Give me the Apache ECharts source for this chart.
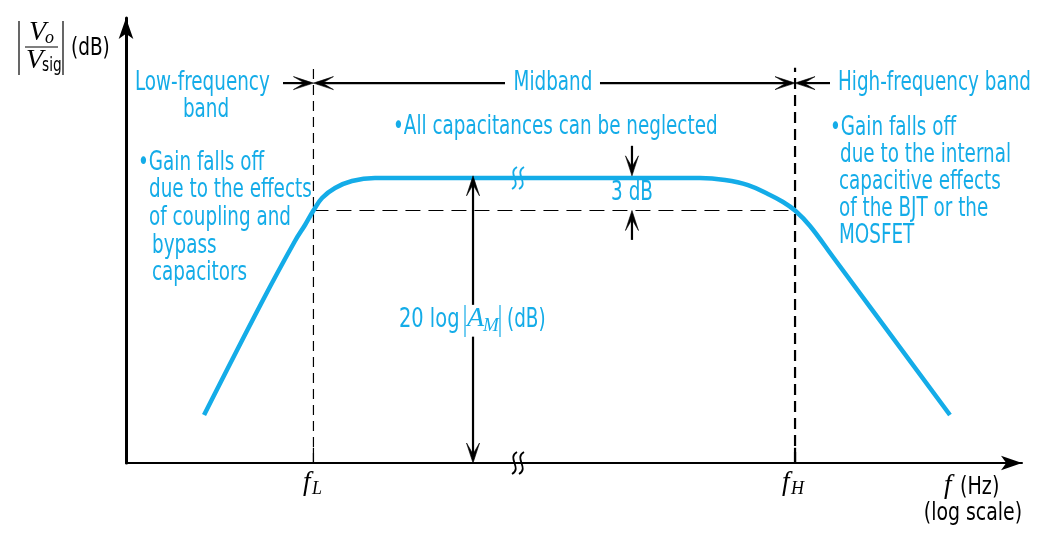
<!DOCTYPE html>
<html><head><meta charset="utf-8">
<script src="https://cdn.jsdelivr.net/npm/echarts@6/dist/echarts.min.js"></script>
<style>html,body{margin:0;padding:0;background:#fff}#c{width:1052px;height:540px}</style>
</head><body><div id="c"></div>
<script>
// ---- data (abstract units: x = log-frequency position, y = gain in dB position) ----
const fL = 20.92;           // lower 3-dB frequency
const fH = 74.67;           // upper 3-dB frequency
const midGain = 63.6;       // midband gain level
const cornerGain = 56.36;   // gain 3 dB below midband
const bandY = 84.8;         // level of band arrows
const dashTop = 88.2;       // top of dashed frequency markers
const breakX = 43.75;       // axis/curve break position
const amX = 38.73;          // 20log|AM| arrow position
const dbX = 56.47;          // 3 dB arrow position

const curveFreq = [8.71, 15.29, 18.86, 19.98, 20.92, 21.88, 23.33, 25.22, 27.79, 43.75, 64.06, 66.85, 69.42, 71.65, 73.33, 74.67, 76.34, 78.91, 91.96];
const curveGain = [10.71, 36.38, 49.55, 53.13, 56.36, 59.15, 61.38, 62.95, 63.6, 63.6, 63.6, 63.17, 62.05, 60.04, 58.26, 56.36, 52.9, 45.98, 10.71];

// arrows: [x1, y1, x2, y2]  (head at x2,y2)
const arrowSegs = [
  [17.52, bandY, fL, bandY],
  [42.3, bandY, fL, bandY],
  [52.9, bandY, fH, bandY],
  [78.57, bandY, fH, bandY],
  [amX, 35.3, amX, midGain + 0.5],
  [amX, 28.2, amX, 0],
  [dbX, 70.8, dbX, midGain + 0.5],
  [dbX, 49.8, dbX, cornerGain]
];

const BLUE = '#14ACE8';
const SANS = "DejaVu Sans Condensed";
const SERIF = "Liberation Serif";

const chart = echarts.init(document.getElementById('c'), null, {renderer: 'canvas'});

const curveData = curveFreq.map((x, i) => [x, curveGain[i]]);

function seg(x1, y1, x2, y2) { return [[x1, y1], [x2, y2]]; }

function lineSeries(pts, style, z) {
  return {type: 'line', data: pts, symbol: 'none', silent: true, z: z || 2,
    lineStyle: style, animation: false};
}

function arrowRender(params, api) {
  const p1 = api.coord([api.value(0), api.value(1)]);
  const p2 = api.coord([api.value(2), api.value(3)]);
  const dx = p2[0] - p1[0], dy = p2[1] - p1[1];
  const len = Math.sqrt(dx * dx + dy * dy) || 1;
  const ux = dx / len, uy = dy / len, px = -uy, py = ux;
  const L = 20, W = 6.5;
  const tip = p2;
  const bl = [tip[0] - ux * L + px * W, tip[1] - uy * L + py * W];
  const br = [tip[0] - ux * L - px * W, tip[1] - uy * L - py * W];
  const nt = [tip[0] - ux * L * 0.45, tip[1] - uy * L * 0.45];
  return {type: 'group', children: [
    {type: 'line', shape: {x1: p1[0], y1: p1[1], x2: p2[0] - ux * 4, y2: p2[1] - uy * 4},
      style: {stroke: '#000', lineWidth: 2.2}},
    {type: 'polygon', shape: {points: [tip, bl, nt, br]}, style: {fill: '#000', stroke: '#000', lineWidth: 0.6}}
  ]};
}

function breakRender(color) {
  return function (params, api) {
    const c = api.coord([api.value(0), api.value(1)]);
    const kids = [];
    [-3.5, 3.5].forEach(off => {
      const x = c[0] + off, y = c[1];
      kids.push({type: 'bezierCurve', shape: {x1: x + 2.5, y1: y - 11, cpx1: x - 8, cpy1: y - 5,
        cpx2: x + 8, cpy2: y + 5, x2: x - 2.5, y2: y + 11}, style: {stroke: color, lineWidth: 1.8, fill: null}});
    });
    return {type: 'group', children: kids};
  };
}

function t(text, x, y, opts, sx) {
  return {type: 'text', x: x, y: y, scaleX: sx == null ? 0.785 : sx, silent: true, z: 10,
    style: Object.assign({text: text, fill: BLUE, fontSize: 26, fontFamily: SANS,
      align: 'left', verticalAlign: 'middle'}, opts || {})};
}
function it(text, x, y, size, color) {
  return {type: 'text', x: x, y: y, silent: true, z: 10,
    style: {text: text, fill: color || '#000', fontSize: size, fontFamily: SERIF, fontStyle: 'italic',
      align: 'left', verticalAlign: 'middle'}};
}
function bar(x, y1, y2, color) {
  return {type: 'line', silent: true, z: 10, shape: {x1: x, y1: y1, x2: x, y2: y2},
    style: {stroke: color, lineWidth: 1.2}};
}

const option = {
  animation: false,
  backgroundColor: '#fff',
  grid: {left: 126, top: 18, right: 30, bottom: 77},
  xAxis: {type: 'value', min: 0, max: 100,
    axisLine: {show: true, onZero: false, symbol: ['none', 'arrow'], symbolSize: [11, 21],
      lineStyle: {color: '#000', width: 2}},
    axisTick: {show: false}, axisLabel: {show: false}, splitLine: {show: false}},
  yAxis: {type: 'value', min: 0, max: 99.33,
    axisLine: {show: true, onZero: false, symbol: ['none', 'arrow'], symbolSize: [11, 21],
      lineStyle: {color: '#000', width: 3}},
    axisTick: {show: false}, axisLabel: {show: false}, splitLine: {show: false}},
  series: [
    lineSeries(seg(fL, 0, fL, dashTop), {color: '#000', width: 1.2, type: [10, 6]}),
    lineSeries(seg(fH, 0, fH, dashTop), {color: '#000', width: 2.2, type: [11, 6]}),
    lineSeries(seg(fL, cornerGain, fH, cornerGain), {color: '#000', width: 1.2, type: [15, 8]}),
    lineSeries(seg(fL, 0, fL, 3.4), {color: '#000', width: 1.2}),
    lineSeries(seg(fH, 0, fH, 3.4), {color: '#000', width: 2.2}),
    {type: 'line', data: curveData, symbol: 'none', smooth: 0.4, silent: true, z: 5,
      lineStyle: {color: BLUE, width: 4.5}},
    {type: 'custom', coordinateSystem: 'cartesian2d', renderItem: arrowRender,
      data: arrowSegs, encode: {x: [0, 2], y: [1, 3]}, silent: true, clip: false, z: 6},
    {type: 'custom', coordinateSystem: 'cartesian2d', renderItem: breakRender(BLUE),
      data: [[breakX, midGain]], encode: {x: 0, y: 1}, silent: true, clip: false, z: 7},
    {type: 'custom', coordinateSystem: 'cartesian2d', renderItem: breakRender('#000'),
      data: [[breakX, 0]], encode: {x: 0, y: 1}, silent: true, clip: false, z: 7}
  ],
  graphic: [
    // y-axis label |Vo/Vsig| (dB)
    bar(19, 21, 75, '#000'),
    bar(63, 21, 75, '#000'),
    {type: 'line', shape: {x1: 25, y1: 47, x2: 58, y2: 47}, style: {stroke: '#000', lineWidth: 1.2}},
    it('V', 29, 33, 28),
    it('o', 45, 38, 18),
    it('V', 26, 61, 28),
    t('sig', 42, 66, {fill: '#000', fontSize: 19}, 0.8),
    t('(dB)', 71, 48, {fill: '#000', fontSize: 25}, 0.82),
    // band labels
    t('Low-frequency', 135, 83),
    t('band', 206, 110, {align: 'center'}),
    t('Midband', 553, 83, {align: 'center'}),
    t('High-frequency band', 838, 83),
    t('\u2022All capacitances can be neglected', 393, 127),
    t('\u2022Gain falls off', 138, 163),
    t('due to the effects', 149, 190),
    t('of coupling and', 149, 218),
    t('bypass', 152, 246),
    t('capacitors', 152, 273),
    t('\u2022Gain falls off', 830, 128),
    t('due to the internal', 840, 155),
    t('capacitive effects', 839, 182),
    t('of the BJT or the', 839, 209),
    t('MOSFET', 839, 236),
    t('3 dB', 632, 193, {align: 'center'}),
    // 20 log |A_M| (dB)
    t('20 log', 399, 320, null, 0.83),
    bar(465, 305, 337, BLUE),
    it('A', 467, 319, 28, BLUE),
    it('M', 483, 326, 19, BLUE),
    bar(500, 305, 337, BLUE),
    t('(dB)', 507, 320),
    // frequency labels
    it('f', 303, 483, 27),
    it('L', 312, 489, 18),
    it('f', 782, 483, 27),
    it('H', 791, 489, 18),
    it('f', 944, 486, 27),
    t('(Hz)', 960, 487, {fill: '#000', fontSize: 25}, 0.85),
    t('(log scale)', 1022, 513, {fill: '#000', fontSize: 25, align: 'right'}, 0.84)
  ]
};
chart.setOption(option);
</script>
</body></html>
